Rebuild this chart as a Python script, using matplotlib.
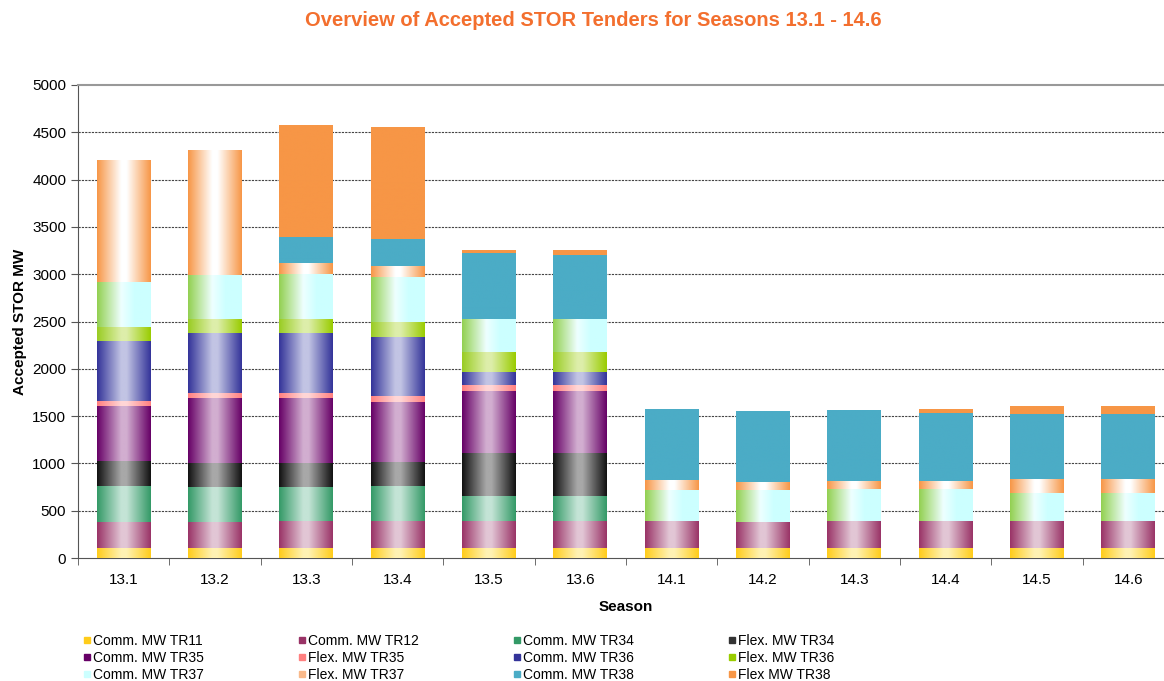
import matplotlib
matplotlib.use("Agg")
import matplotlib.pyplot as plt
import numpy as np
from matplotlib.colors import LinearSegmentedColormap
from matplotlib.lines import Line2D

plt.rcParams['font.family'] = ['Liberation Sans', 'DejaVu Sans']

seasons = ['13.1', '13.2', '13.3', '13.4', '13.5', '13.6',
           '14.1', '14.2', '14.3', '14.4', '14.5', '14.6']

comm_tr11 = [110, 110, 110, 110, 110, 110, 110, 110, 110, 110, 110, 110]
comm_tr12 = [275, 268, 278, 278, 278, 278, 278, 268, 278, 278, 278, 278]
comm_tr34 = [374, 370, 360, 370, 267, 267, 0, 0, 0, 0, 0, 0]
flex_tr34 = [267, 261, 261, 260, 458, 458, 0, 0, 0, 0, 0, 0]
comm_tr35 = [585, 683, 683, 634, 656, 656, 0, 0, 0, 0, 0, 0]
flex_tr35 = [53, 57, 57, 57, 56, 56, 0, 0, 0, 0, 0, 0]
comm_tr36 = [634, 634, 634, 630, 145, 145, 0, 0, 0, 0, 0, 0]
flex_tr36 = [148, 148, 148, 152, 204, 204, 0, 0, 0, 0, 0, 0]
comm_tr37 = [472, 461, 472, 483, 349, 349, 334, 345, 340, 340, 300, 300]
flex_tr37 = [1290, 1325, 119, 116, 0, 0, 106, 85, 85, 85, 145, 145]
comm_tr38 = [0, 0, 272, 279, 698, 683, 744, 747, 747, 722, 690, 690]
flex_tr38 = [0, 0, 1184, 1184, 35, 50, 0, 0, 0, 36, 85, 85]

series_names = ['Comm. MW TR11', 'Comm. MW TR12', 'Comm. MW TR34', 'Flex. MW TR34',
                'Comm. MW TR35', 'Flex. MW TR35', 'Comm. MW TR36', 'Flex. MW TR36',
                'Comm. MW TR37', 'Flex. MW TR37', 'Comm. MW TR38', 'Flex MW TR38']
series_values = [comm_tr11, comm_tr12, comm_tr34, flex_tr34, comm_tr35, flex_tr35,
                 comm_tr36, flex_tr36, comm_tr37, flex_tr37, comm_tr38, flex_tr38]

# gradient stops (left -> right) for each series
gradients = [
    [(0, '#FFCC1A'), (0.45, '#FFF2B3'), (0.55, '#FFF2B3'), (1, '#FFCC1A')],
    [(0, '#993366'), (0.45, '#E2C6D5'), (0.55, '#E2C6D5'), (1, '#993366')],
    [(0, '#339966'), (0.45, '#C4E4D6'), (0.55, '#C4E4D6'), (1, '#339966')],
    [(0, '#111111'), (0.45, '#A8A8A8'), (0.55, '#A8A8A8'), (1, '#111111')],
    [(0, '#660066'), (0.45, '#D2AED0'), (0.55, '#D2AED0'), (1, '#660066')],
    [(0, '#FF7F7F'), (0.45, '#FFD6D6'), (0.55, '#FFD6D6'), (1, '#FF7F7F')],
    [(0, '#333399'), (0.45, '#C2C4E4'), (0.55, '#C2C4E4'), (1, '#333399')],
    [(0, '#99CC22'), (0.45, '#DDEEAA'), (0.55, '#DDEEAA'), (1, '#99CC00')],
    [(0, '#92D050'), (0.45, '#EEFFFF'), (0.7, '#CCFFFF'), (1, '#CCFFFF')],
    [(0, '#F79646'), (0.45, '#FFFFFF'), (0.55, '#FFFFFF'), (1, '#F79646')],
    [(0, '#4BACC6'), (1, '#4BACC6')],
    [(0, '#F79646'), (1, '#F79646')],
]
legend_colors = ['#FFCC1A', '#993366', '#339966', '#333333', '#660066', '#FF8080',
                 '#333399', '#99CC00', '#CCFFFF', '#F9B98A', '#4BACC6', '#F79646']

fig = plt.figure(figsize=(11.64, 6.81), dpi=100)
ax = fig.add_axes([78 / 1164, (681 - 558) / 681, (1174 - 78) / 1164, 473 / 681])

x = np.arange(len(seasons))
width = 0.59
bottom = np.zeros(len(seasons))
grad_img = np.linspace(0, 1, 256).reshape(1, -1)
for name, vals, stops in zip(series_names, series_values, gradients):
    vals = np.array(vals, dtype=float)
    cmap = LinearSegmentedColormap.from_list(name, stops)
    bars = ax.bar(x, vals, width, bottom=bottom, color=stops[0][1], linewidth=0, zorder=2)
    for b in bars:
        if b.get_height() <= 0:
            continue
        x0, y0 = b.get_x(), b.get_y()
        im = ax.imshow(grad_img, cmap=cmap, aspect='auto', interpolation='bilinear',
                       extent=(x0, x0 + b.get_width(), y0, y0 + b.get_height()), zorder=3)
        im.set_clip_path(b)
    bottom += vals

ax.set_xlim(-0.5, len(seasons) - 0.5)
ax.set_ylim(0, 5000)
ax.set_yticks(np.arange(0, 5001, 500))
ax.set_xticks(x)
ax.set_xticklabels(seasons)
ax.set_xticks(np.arange(-0.5, len(seasons), 1), minor=True)
ax.tick_params(axis='x', which='major', length=0, labelsize=11, pad=11)
ax.tick_params(axis='x', which='minor', length=5, direction='out', color='#555555')
ax.tick_params(axis='y', length=5, direction='out', labelsize=11, color='#555555')
for yv in np.arange(500, 5000, 500):
    ax.axhline(yv, color='#444444', linestyle=(0, (2, 1)), linewidth=0.8, zorder=1)
ax.spines['top'].set_color('#999999')
ax.spines['top'].set_linewidth(1.5)
ax.spines['right'].set_visible(False)
ax.spines['left'].set_color('#555555')
ax.spines['bottom'].set_color('#555555')

ax.set_xlabel('Season', fontsize=11, fontweight='bold', labelpad=9)
ax.set_ylabel('Accepted STOR MW', fontsize=11, fontweight='bold', labelpad=4)

fig.text(593 / 1164, 1 - 21 / 681, 'Overview of Accepted STOR Tenders for Seasons 13.1 - 14.6',
         ha='center', va='center', fontsize=14.5, fontweight='bold', color='#F36F2E')

# legend: row-wise ordering into 4 columns
handles = [Line2D([0], [0], marker='s', linestyle='none', markersize=5,
                  markerfacecolor=c, markeredgecolor=c) for c in legend_colors]
ncol, nrow = 4, 3
order = [r * ncol + c for c in range(ncol) for r in range(nrow)]
fig.legend([handles[i] for i in order], [series_names[i] for i in order],
           ncol=ncol, loc='upper left', bbox_to_anchor=(83 / 1164, 1 - 634 / 681),
           frameon=False, fontsize=10, handlelength=0.6, handletextpad=0.1,
           columnspacing=6.8, labelspacing=0.2, borderpad=0, borderaxespad=0)

fig.savefig('out.png', dpi=100)
